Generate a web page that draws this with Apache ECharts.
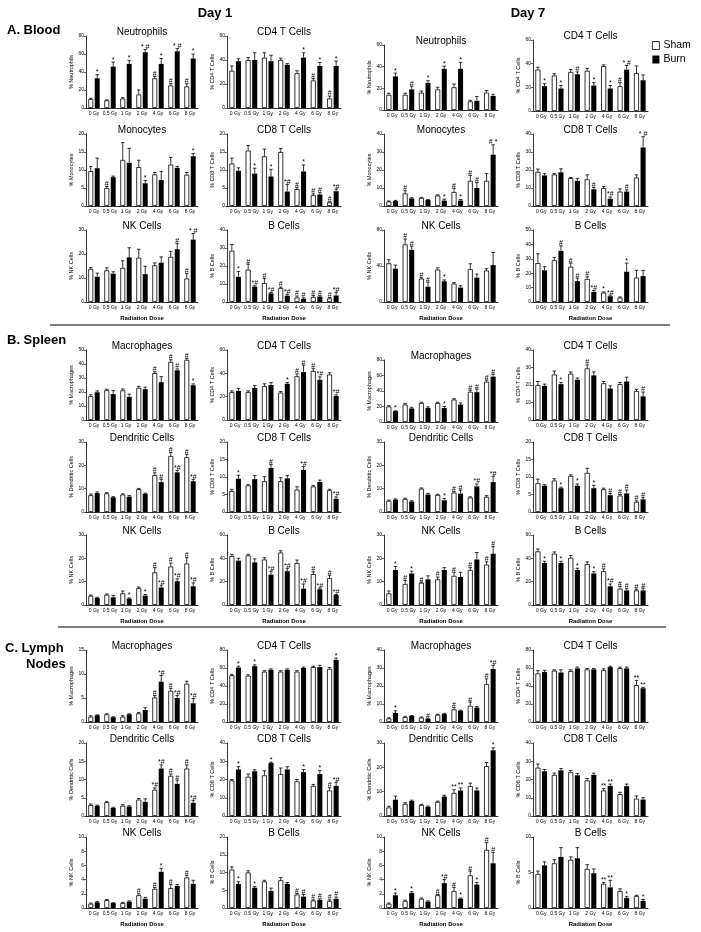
<!DOCTYPE html>
<html><head><meta charset="utf-8">
<script src="https://cdn.jsdelivr.net/npm/echarts@6/dist/echarts.min.js"></script>
<style>html,body{margin:0;padding:0;background:#fff}#c{width:701px;height:932px}</style>
</head><body><div id="c"></div>
<script>
// ---------- categories ----------
const doses = ['0 Gy','0.5 Gy','1 Gy','2 Gy','4 Gy','6 Gy','8 Gy'];

// ---------- A. Blood, Day 1 ----------  [mean, SEM]
const bl1_neu_sham = [[10,0.8],[8.5,0.5],[10.5,1],[15,5],[33,2],[25,2],[24,3]];
const bl1_neu_burn = [[33,4],[46,5],[49,4],[62,3],[49,6],[63,3],[55,5]];
const bl1_neu_marks = [['','*'],['','*'],['','*'],['','* #'],['#','*'],['#','* #'],['#','*']];
const bl1_cd4_sham = [[31,4],[40,2],[42,4],[40,1.5],[29,2],[23,1.5],[8,2]];
const bl1_cd4_burn = [[39,2],[40,6],[39,5],[36,1],[42,4],[35,3],[35,4]];
const bl1_cd4_marks = [['',''],['',''],['',''],['',''],['','*'],['#','*'],['#','*']];
const bl1_mono_sham = [[9.7,1.3],[5,0.4],[12.8,4.8],[10.8,1.9],[8.8,0.5],[11.5,2],[8.7,0.6]];
const bl1_mono_burn = [[10.5,2.8],[8,0.3],[12,4],[6.3,0.8],[7.2,2.4],[10.6,0.4],[13.8,0.8]];
const bl1_mono_marks = [['',''],['#',''],['',''],['','*'],['',''],['',''],['','*']];
const bl1_cd8_sham = [[11.8,1.5],[15.4,1.4],[13.8,2],[15,1],[4.7,0.5],[3,0.4],[1,0.2]];
const bl1_cd8_burn = [[9.8,0.8],[9,1.5],[8.2,2],[4,2],[9.6,1.8],[3.2,0.5],[4.1,0.6]];
const bl1_cd8_marks = [['',''],['','*'],['','*'],['','*#'],['#','*'],['#','#'],['#','*#']];
const bl1_nk_sham = [[13.8,0.6],[13.2,1],[14.2,3],[18.5,3.5],[15.3,1],[18.8,2.3],[9.8,2]];
const bl1_nk_burn = [[10.5,1.5],[11.8,0.8],[18.6,4],[11.6,3.3],[16.4,2.4],[22,2.3],[26,2.5]];
const bl1_nk_marks = [['',''],['',''],['',''],['',''],['',''],['','#'],['#','* #']];
const bl1_b_sham = [[28.5,3.5],[18,3],[10.5,2.5],[7.8,0.5],[2.5,0.8],[2.8,0.8],[2,0.5]];
const bl1_b_burn = [[14,3],[8.5,0.5],[4.8,0.5],[3.5,0.8],[1.8,0.5],[3,0.5],[3.6,1.8]];
const bl1_b_marks = [['','*'],['#','*#'],['#','*#'],['#','*#'],['#','#'],['#','#'],['#','*#']];

// ---------- A. Blood, Day 7 ----------
const bl7_neu_sham = [[14,1.5],[14,1.5],[16,1.5],[19,2],[21,3],[8,1],[16,2]];
const bl7_neu_burn = [[31,3],[19,3],[25,2],[38,2.5],[38,6],[8.5,4],[13,1.5]];
const bl7_neu_marks = [['','*'],['','#'],['','*'],['','*'],['','*'],['',''],['','']];
const bl7_cd4_sham = [[35,2],[30,1.5],[33,2],[34,2],[38,1],[21,3],[32,6]];
const bl7_cd4_burn = [[21,2],[19,2.5],[31,2],[21.5,2.5],[19,2.5],[35,3.5],[26,4.5]];
const bl7_cd4_marks = [['','*'],['','*'],['','#'],['','*'],['','*'],['#','* #'],['','']];
const bl7_mono_sham = [[2.5,0.3],[7,1.5],[4.5,0.3],[5.8,0.4],[7.8,2],[14,3],[14,4]];
const bl7_mono_burn = [[2.7,0.4],[4.2,0.4],[3.3,0.3],[3,0.8],[3,0.6],[10,3],[28.5,5.5]];
const bl7_mono_marks = [['',''],['#',''],['',''],['','*'],['#','*'],['#','#'],['','# *']];
const bl7_cd8_sham = [[19,1.5],[17.5,0.5],[15.5,0.3],[14.8,2.5],[10,0.8],[8,1.5],[15.8,1.5]];
const bl7_cd8_burn = [[17,1],[18.7,2],[14,1.3],[9.3,1],[4,1],[8,1],[32.5,6]];
const bl7_cd8_marks = [['',''],['',''],['',''],['','#'],['','*#'],['','#'],['','* #']];
const bl7_nk_sham = [[43,4],[64,6],[26,1],[36,2],[20.5,1],[36.5,6],[35,2]];
const bl7_nk_burn = [[37,4],[58,4],[17,5],[23,1.5],[16,2],[27,4],[41,14]];
const bl7_nk_marks = [['',''],['#','#'],['#','#'],['','*'],['',''],['',''],['','']];
const bl7_b_sham = [[27,6.5],[29,2],[24.5,2.5],[16,1.5],[6.5,0.5],[3,0.5],[17,5]];
const bl7_b_burn = [[22,2.5],[35.5,3.5],[14.5,2],[7,1],[4,0.8],[21,6],[18,4]];
const bl7_b_marks = [['',''],['','#'],['#','#'],['#','*#'],['*','*#'],['','*'],['','']];

// ---------- B. Spleen, Day 1 ----------
const sp1_mac_sham = [[17,1],[21.5,0.5],[21.2,1],[23,1],[33.5,1],[41.5,1.5],[43,1]];
const sp1_mac_burn = [[19.8,1],[18.5,2.5],[16.5,2],[22,1.5],[27,4],[35.5,1],[24.8,1]];
const sp1_mac_marks = [['',''],['',''],['',''],['',''],['#',''],['#','#'],['#','*']];
const sp1_cd4_sham = [[24,1],[24,1],[29,2],[23.5,1],[37.5,2],[42,2],[39,1.5]];
const sp1_cd4_burn = [[25,2],[27.5,2],[30,2],[31,1],[41,6],[34.5,2.5],[20.5,1]];
const sp1_cd4_marks = [['',''],['',''],['',''],['','*'],['#','#'],['#','*#'],['','*#']];
const sp1_dc_sham = [[7.2,0.5],[8,0.3],[7.5,0.3],[9.8,0.3],[15.8,1],[24,1.5],[23.5,1.2]];
const sp1_dc_burn = [[8.1,0.5],[6.3,0.3],[6.6,0.5],[7.8,0.3],[12.8,1.2],[17,0.8],[13.2,0.8]];
const sp1_dc_marks = [['',''],['',''],['',''],['',''],['#','#'],['#','*#'],['#','*#']];
const sp1_cd8_sham = [[6,0.5],[7.6,0.2],[8.8,1.3],[8.8,1],[6.4,0.8],[7.3,0.3],[6.2,0.3]];
const sp1_cd8_burn = [[9.5,1],[9.4,1],[12.6,1],[9.6,0.8],[12,1],[8.6,0.5],[3.8,0.5]];
const sp1_cd8_marks = [['','*'],['',''],['','#'],['',''],['','*#'],['',''],['','*#']];
const sp1_nk_sham = [[4,0.3],[4.4,0.3],[5,1],[7.2,0.5],[14,2],[16.5,1.5],[17.8,2.5]];
const sp1_nk_burn = [[3,0.3],[3.3,0.8],[2.7,0.3],[4,0.5],[7.5,1],[10.2,1],[8,1.5]];
const sp1_nk_marks = [['',''],['',''],['','*'],['','*'],['#','*#'],['#','*#'],['#','*#']];
const sp1_b_sham = [[42,1.5],[42.5,1],[39,1.5],[45,1.5],[36,2.5],[26.5,2],[23,2.5]];
const sp1_b_burn = [[38,2],[36.5,3],[26,3],[29,2.5],[14,4],[13.5,1],[8.5,0.5]];
const sp1_b_marks = [['',''],['',''],['','*#'],['','*#'],['','*#'],['#','*#'],['#','*#']];

// ---------- B. Spleen, Day 7 ----------
const sp7_mac_sham = [[20,1],[22.5,1.5],[24.5,1],[24.5,1],[29,1],[39,2],[52,2]];
const sp7_mac_burn = [[14,0.5],[17.5,1.5],[18,1.5],[18,2],[22.5,2],[38.5,4],[58.5,3]];
const sp7_mac_marks = [['','*'],['',''],['',''],['','*'],['',''],['#','#'],['#','#']];
const sp7_cd4_sham = [[20,2],[26,2],[26.5,1],[29.5,2],[21,1],[20.5,1],[16.5,1]];
const sp7_cd4_burn = [[19.5,1],[20.5,1],[23,1],[25.5,2],[18,1.5],[22,2.5],[13.5,2.5]];
const sp7_cd4_marks = [['',''],['','*'],['',''],['#',''],['',''],['',''],['','#']];
const sp7_dc_sham = [[4.8,0.3],[5.6,0.3],[10,0.3],[7.3,0.3],[8.3,0.5],[6.2,0.3],[6.5,0.5]];
const sp7_dc_burn = [[5.3,0.3],[4.5,0.3],[7.5,0.5],[5,0.8],[7.9,1.5],[11,1],[12.8,2.5]];
const sp7_dc_marks = [['',''],['',''],['',''],['','*'],['#','#'],['','*#'],['','*#']];
const sp7_cd8_sham = [[8.2,1.2],[9,0.5],[10.3,0.3],[11.2,1.3],[6.5,0.3],[4.7,0.3],[2.9,0.3]];
const sp7_cd8_burn = [[7.5,0.3],[6.8,0.3],[7.5,0.5],[6.8,0.8],[4.8,0.5],[5.3,1],[3.6,0.5]];
const sp7_cd8_marks = [['',''],['','*'],['','*'],['','*'],['','#'],['#','#'],['#','#']];
const sp7_nk_sham = [[5,1],[9,1.5],[9.5,0.3],[11,1],[12.5,1.5],[15,1],[17.3,1.2]];
const sp7_nk_burn = [[15,1.5],[13.5,1],[11,1.5],[15,1],[12,2],[19.5,3],[22,3]];
const sp7_nk_marks = [['','*'],['#','*'],['#',''],['#',''],['#',''],['#',''],['#','#']];
const sp7_b_sham = [[46,2],[44,1.5],[40.5,2],[35,2],[29,2],[14,2],[12.5,1]];
const sp7_b_burn = [[36,1.5],[36,1.5],[30,1.5],[27,1.5],[16,2],[12.5,1.5],[12.5,2]];
const sp7_b_marks = [['','*'],['','*'],['','*'],['','*'],['#','*#'],['#','#'],['#','#']];

// ---------- C. Lymph Nodes, Day 1 ----------
const ln1_mac_sham = [[1.1,0.2],[1.6,0.1],[1.1,0.2],[1.8,0.2],[5.1,0.4],[6.5,0.5],[8,0.5]];
const ln1_mac_burn = [[1.4,0.1],[1,0.1],[1.6,0.1],[2.5,0.5],[8.4,1.3],[5,0.5],[3.9,1]];
const ln1_mac_marks = [['',''],['',''],['',''],['',''],['#','*#'],['#','*#'],['','*#']];
const ln1_cd4_sham = [[52,1],[51.5,1],[56,1],[56,1],[56,1],[61,1],[59,1.5]];
const ln1_cd4_burn = [[60.5,1.5],[62,1.5],[58,1],[58,1],[60,1],[61,2],[69,2]];
const ln1_cd4_marks = [['','*'],['','*'],['',''],['',''],['',''],['',''],['','*']];
const ln1_dc_sham = [[3,0.3],[3.8,0.1],[2.8,0.3],[4.5,0.3],[7.2,0.5],[11,0.5],[13,1]];
const ln1_dc_burn = [[2.8,0.2],[2.2,0.2],[2.6,0.2],[3.9,0.8],[13,1],[8.8,1],[3.6,0.7]];
const ln1_dc_marks = [['',''],['',''],['',''],['',''],['*#','*#'],['#','#'],['#','*#']];
const ln1_cd8_sham = [[19.5,0.5],[21.5,1.5],[22.3,2.5],[23,3.3],[19,1],[16.5,0.8],[14,1.5]];
const ln1_cd8_burn = [[25.5,1.5],[24.5,0.8],[29,0.5],[25.5,1.5],[24,1.5],[23,2],[16.5,2]];
const ln1_cd8_marks = [['','*'],['',''],['','*'],['',''],['','*'],['','*'],['#','*#']];
const ln1_nk_sham = [[0.6,0.1],[1.1,0.1],[0.7,0.1],[1.8,0.2],[2.7,0.2],[2.8,0.5],[4.3,0.3]];
const ln1_nk_burn = [[0.8,0.1],[0.7,0.05],[0.9,0.1],[1.3,0.2],[5.1,0.5],[3.1,0.2],[3.4,0.5]];
const ln1_nk_marks = [['',''],['',''],['',''],['#',''],['#','*'],['#',''],['#','']];
const ln1_b_sham = [[10.8,0.8],[10,0.5],[7.5,0.3],[7.8,0.8],[3.8,0.3],[2.1,0.2],[2,0.3]];
const ln1_b_burn = [[6.8,0.6],[5.7,0.3],[4.8,0.8],[6.8,0.4],[3.2,0.6],[2.3,0.3],[2.6,0.5]];
const ln1_b_marks = [['','*'],['','*'],['',''],['',''],['#','#'],['#','#'],['#','#']];

// ---------- C. Lymph Nodes, Day 7 ----------
const ln7_mac_sham = [[2,0.3],[2.7,0.5],[2.5,0.3],[4,0.3],[7,1],[9,2],[21,3]];
const ln7_mac_burn = [[5,1.2],[3.3,0.3],[1.8,0.3],[4.5,0.3],[6.3,0.3],[8,0.5],[29.5,2]];
const ln7_mac_marks = [['','*'],['',''],['','#'],['',''],['#',''],['#',''],['#','*#']];
const ln7_cd4_sham = [[54,3],[57,1],[56.5,1.5],[58.5,1],[57.5,1.5],[60,1],[41,5]];
const ln7_cd4_burn = [[55.5,2],[55,3],[59.5,1.5],[58.5,1],[61,1],[59.5,1.5],[37.5,1]];
const ln7_cd4_marks = [['',''],['',''],['',''],['',''],['',''],['',''],['**','**']];
const ln7_dc_sham = [[3.5,0.5],[5,0.5],[4.5,0.3],[5.8,0.3],[9.5,1.3],[12.3,1.2],[20.5,1.5]];
const ln7_dc_burn = [[6.7,1.5],[6.2,0.3],[3.8,0.3],[8,0.5],[10.5,1],[10.5,1],[27,1]];
const ln7_dc_marks = [['',''],['',''],['',''],['',''],['**','**'],['',''],['','*']];
const ln7_cd8_sham = [[26.5,2],[22.5,1],[24,1],[19.5,1],[14,1],[12,1],[9.5,1.5]];
const ln7_cd8_burn = [[24.5,1],[25,1],[22.3,1],[22.5,1],[16.5,1],[16.3,1.2],[9,1]];
const ln7_cd8_marks = [['',''],['',''],['',''],['',''],['**','**'],['',''],['','']];
const ln7_nk_sham = [[0.6,0.1],[1,0.1],[1.3,0.1],[1.8,0.1],[2.4,0.5],[4.6,0.6],[8.2,1]];
const ln7_nk_burn = [[1.8,0.3],[2.1,0.2],[0.9,0.1],[3.5,0.5],[1.3,0.1],[3.3,0.3],[6.3,1.5]];
const ln7_nk_marks = [['','*'],['','*'],['',''],['#','*#'],['#','*'],['#','*'],['#','#']];
const ln7_b_sham = [[4.8,0.4],[6.3,0.5],[6.8,0.4],[5.5,0.6],[3.4,0.2],[2.4,0.3],[1.7,0.1]];
const ln7_b_burn = [[6,0.5],[7.2,1.3],[7,1.5],[4.9,0.6],[2.9,1],[1.4,0.2],[1,0.2]];
const ln7_b_marks = [['',''],['',''],['',''],['',''],['**','**'],['','*'],['','*']];

// ---------- panel list (row r, column c) ----------
const panels = [
  {r:0,c:0,t:'Neutrophils',y:'% Neutrophils',max:80,step:20,s:bl1_neu_sham,b:bl1_neu_burn,m:bl1_neu_marks},
  {r:0,c:1,t:'CD4 T Cells',y:'% CD4 T Cells',max:60,step:20,s:bl1_cd4_sham,b:bl1_cd4_burn,m:bl1_cd4_marks},
  {r:0,c:2,t:'Neutrophils',y:'% Neutrophils',max:60,step:20,s:bl7_neu_sham,b:bl7_neu_burn,m:bl7_neu_marks},
  {r:0,c:3,t:'CD4 T Cells',y:'% CD4 T Cells',max:60,step:20,s:bl7_cd4_sham,b:bl7_cd4_burn,m:bl7_cd4_marks},
  {r:1,c:0,t:'Monocytes',y:'% Monocytes',max:20,step:5,s:bl1_mono_sham,b:bl1_mono_burn,m:bl1_mono_marks},
  {r:1,c:1,t:'CD8 T Cells',y:'% CD8 T Cells',max:20,step:5,s:bl1_cd8_sham,b:bl1_cd8_burn,m:bl1_cd8_marks},
  {r:1,c:2,t:'Monocytes',y:'% Monocytes',max:40,step:10,s:bl7_mono_sham,b:bl7_mono_burn,m:bl7_mono_marks},
  {r:1,c:3,t:'CD8 T Cells',y:'% CD8 T Cells',max:40,step:10,s:bl7_cd8_sham,b:bl7_cd8_burn,m:bl7_cd8_marks},
  {r:2,c:0,t:'NK Cells',y:'% NK Cells',max:30,step:10,s:bl1_nk_sham,b:bl1_nk_burn,m:bl1_nk_marks},
  {r:2,c:1,t:'B Cells',y:'% B Cells',max:40,step:10,s:bl1_b_sham,b:bl1_b_burn,m:bl1_b_marks},
  {r:2,c:2,t:'NK Cells',y:'% NK Cells',max:80,step:40,s:bl7_nk_sham,b:bl7_nk_burn,m:bl7_nk_marks},
  {r:2,c:3,t:'B Cells',y:'% B Cells',max:50,step:10,s:bl7_b_sham,b:bl7_b_burn,m:bl7_b_marks},
  {r:3,c:0,t:'Macrophages',y:'% Macrophages',max:50,step:10,s:sp1_mac_sham,b:sp1_mac_burn,m:sp1_mac_marks},
  {r:3,c:1,t:'CD4 T Cells',y:'% CD4 T Cells',max:60,step:20,s:sp1_cd4_sham,b:sp1_cd4_burn,m:sp1_cd4_marks},
  {r:3,c:2,t:'Macrophages',y:'% Macrophages',max:80,step:20,s:sp7_mac_sham,b:sp7_mac_burn,m:sp7_mac_marks},
  {r:3,c:3,t:'CD4 T Cells',y:'% CD4 T Cells',max:40,step:10,s:sp7_cd4_sham,b:sp7_cd4_burn,m:sp7_cd4_marks},
  {r:4,c:0,t:'Dendritic Cells',y:'% Dendritic Cells',max:30,step:10,s:sp1_dc_sham,b:sp1_dc_burn,m:sp1_dc_marks},
  {r:4,c:1,t:'CD8 T Cells',y:'% CD8 T Cells',max:20,step:5,s:sp1_cd8_sham,b:sp1_cd8_burn,m:sp1_cd8_marks},
  {r:4,c:2,t:'Dendritic Cells',y:'% Dendritic Cells',max:30,step:10,s:sp7_dc_sham,b:sp7_dc_burn,m:sp7_dc_marks},
  {r:4,c:3,t:'CD8 T Cells',y:'% CD8 T Cells',max:20,step:5,s:sp7_cd8_sham,b:sp7_cd8_burn,m:sp7_cd8_marks},
  {r:5,c:0,t:'NK Cells',y:'% NK Cells',max:30,step:10,s:sp1_nk_sham,b:sp1_nk_burn,m:sp1_nk_marks},
  {r:5,c:1,t:'B Cells',y:'% B Cells',max:60,step:20,s:sp1_b_sham,b:sp1_b_burn,m:sp1_b_marks},
  {r:5,c:2,t:'NK Cells',y:'% NK Cells',max:30,step:10,s:sp7_nk_sham,b:sp7_nk_burn,m:sp7_nk_marks},
  {r:5,c:3,t:'B Cells',y:'% B Cells',max:60,step:20,s:sp7_b_sham,b:sp7_b_burn,m:sp7_b_marks},
  {r:6,c:0,t:'Macrophages',y:'% Macrophages',max:15,step:5,s:ln1_mac_sham,b:ln1_mac_burn,m:ln1_mac_marks},
  {r:6,c:1,t:'CD4 T Cells',y:'% CD4 T Cells',max:80,step:20,s:ln1_cd4_sham,b:ln1_cd4_burn,m:ln1_cd4_marks},
  {r:6,c:2,t:'Macrophages',y:'% Macrophages',max:40,step:10,s:ln7_mac_sham,b:ln7_mac_burn,m:ln7_mac_marks},
  {r:6,c:3,t:'CD4 T Cells',y:'% CD4 T Cells',max:80,step:20,s:ln7_cd4_sham,b:ln7_cd4_burn,m:ln7_cd4_marks},
  {r:7,c:0,t:'Dendritic Cells',y:'% Dendritic Cells',max:20,step:5,s:ln1_dc_sham,b:ln1_dc_burn,m:ln1_dc_marks},
  {r:7,c:1,t:'CD8 T Cells',y:'% CD8 T Cells',max:40,step:10,s:ln1_cd8_sham,b:ln1_cd8_burn,m:ln1_cd8_marks},
  {r:7,c:2,t:'Dendritic Cells',y:'% Dendritic Cells',max:30,step:10,s:ln7_dc_sham,b:ln7_dc_burn,m:ln7_dc_marks},
  {r:7,c:3,t:'CD8 T Cells',y:'% CD8 T Cells',max:40,step:10,s:ln7_cd8_sham,b:ln7_cd8_burn,m:ln7_cd8_marks},
  {r:8,c:0,t:'NK Cells',y:'% NK Cells',max:10,step:2,s:ln1_nk_sham,b:ln1_nk_burn,m:ln1_nk_marks},
  {r:8,c:1,t:'B Cells',y:'% B Cells',max:20,step:5,s:ln1_b_sham,b:ln1_b_burn,m:ln1_b_marks},
  {r:8,c:2,t:'NK Cells',y:'% NK Cells',max:10,step:2,s:ln7_nk_sham,b:ln7_nk_burn,m:ln7_nk_marks},
  {r:8,c:3,t:'B Cells',y:'% B Cells',max:10,step:5,s:ln7_b_sham,b:ln7_b_burn,m:ln7_b_marks}
];

// ---------- layout (pixels) ----------
const colLeft = [86, 227, 384, 533];
const colWidth = [112, 114, 114, 115];
const rowTop = [36, 134, 230, 350, 442, 535, 650, 743, 837];
const rowBottom = [108, 206, 302, 420, 512, 605, 722, 816, 908];
const FONT = '"Liberation Sans", Arial, sans-serif';
const BAR_FRAC = 0.31, BAR_GAP = 0.3;

function rect(p) {
  let top = rowTop[p.r], bottom = rowBottom[p.r];
  if (p.r === 0 && p.c === 2) { top = 45; bottom = 110; }
  if (p.r === 0 && p.c === 3) { top = 40; bottom = 111; }
  if (p.r === 3 && p.c === 2) { top = 360; bottom = 422; }
  return {left: colLeft[p.c], top: top, width: colWidth[p.c], height: bottom - top};
}

const grids = [], xAxes = [], yAxes = [], series = [], graphics = [];
panels.forEach((p, gi) => {
  const g = rect(p);
  grids.push(g);
  const lastRow = (p.r === 2 || p.r === 5 || p.r === 8);
  xAxes.push({
    type: 'category', gridIndex: gi, data: doses,
    axisLine: {lineStyle: {color: '#000', width: 0.8}},
    axisTick: {show: false},
    axisLabel: {fontSize: 5, margin: 3, interval: 0, color: '#000', fontFamily: FONT},
    name: lastRow ? 'Radiation Dose' : '', nameLocation: 'middle', nameGap: 13,
    nameTextStyle: {fontSize: 6, fontWeight: 'bold', color: '#000', fontFamily: FONT}
  });
  yAxes.push({
    type: 'value', gridIndex: gi, min: 0, max: p.max, interval: p.step,
    axisLine: {show: true, lineStyle: {color: '#000', width: 0.8}},
    axisTick: {show: true, length: 2, lineStyle: {color: '#000', width: 0.6}},
    splitLine: {show: false},
    axisLabel: {fontSize: 5, margin: 2, color: '#000', fontFamily: FONT},
    name: p.y, nameLocation: 'middle', nameGap: 12,
    nameTextStyle: {fontSize: 5.5, color: '#000', fontFamily: FONT}
  });
  series.push({
    type: 'bar', name: 'Sham', xAxisIndex: gi, yAxisIndex: gi,
    data: p.s.map(d => d[0]), barWidth: (BAR_FRAC * 100) + '%', barGap: (BAR_GAP * 100) + '%',
    itemStyle: {color: '#fff', borderColor: '#000', borderWidth: 0.8}, silent: true
  });
  series.push({
    type: 'bar', name: 'Burn', xAxisIndex: gi, yAxisIndex: gi,
    data: p.b.map(d => d[0]), barWidth: (BAR_FRAC * 100) + '%', barGap: (BAR_GAP * 100) + '%',
    itemStyle: {color: '#000'}, silent: true
  });
  [[p.s, -1, 0], [p.b, 1, 1]].forEach(([arr, side, mi]) => {
    series.push({
      type: 'custom', xAxisIndex: gi, yAxisIndex: gi, z: 5, silent: true, clip: false,
      data: arr.map((d, i) => [i, d[0], d[1]]),
      renderItem: (params, api) => {
        const i = api.value(0), v = api.value(1), e = api.value(2);
        const base = api.coord([i, v]), tp = api.coord([i, v + e]);
        const band = api.size([1, 0])[0];
        const bw = band * BAR_FRAC;
        const x = base[0] + side * bw * (1 + BAR_GAP) / 2;
        const cap = bw * 0.35;
        const ch = [
          {type: 'line', shape: {x1: x, y1: base[1], x2: x, y2: tp[1]}, style: {stroke: '#000', lineWidth: 0.8}},
          {type: 'line', shape: {x1: x - cap, y1: tp[1], x2: x + cap, y2: tp[1]}, style: {stroke: '#000', lineWidth: 0.8}}
        ];
        const mk = p.m[params.dataIndex][mi];
        if (mk) ch.push({type: 'text', style: {text: mk, x: x, y: tp[1] + 1, align: 'center', verticalAlign: 'bottom',
          font: '7px ' + FONT, fill: '#000'}});
        return {type: 'group', children: ch};
      }
    });
  });
  graphics.push({type: 'text', style: {text: p.t, x: g.left + g.width / 2, y: g.top - 4, align: 'center',
    verticalAlign: 'middle', font: '10px ' + FONT, fill: '#000'}});
});

function txt(t, x, y, font, align) {
  graphics.push({type: 'text', style: {text: t, x: x, y: y, align: align || 'left', verticalAlign: 'middle', font: font, fill: '#000'}});
}
txt('Day 1', 215, 13, 'bold 13px ' + FONT, 'center');
txt('Day 7', 528, 13, 'bold 13px ' + FONT, 'center');
txt('A. Blood', 7, 30, 'bold 13px ' + FONT);
txt('B. Spleen', 7, 340, 'bold 13px ' + FONT);
txt('C. Lymph', 5, 648, 'bold 13px ' + FONT);
txt('Nodes', 26, 664, 'bold 13px ' + FONT);
graphics.push({type: 'line', shape: {x1: 50, y1: 325, x2: 670, y2: 325}, style: {stroke: '#555', lineWidth: 1.5}});
graphics.push({type: 'line', shape: {x1: 58, y1: 627, x2: 666, y2: 627}, style: {stroke: '#555', lineWidth: 1.5}});

const chart = echarts.init(document.getElementById('c'), null, {renderer: 'canvas'});
chart.setOption({
  animation: false,
  backgroundColor: '#fff',
  textStyle: {fontFamily: FONT},
  legend: {
    data: [{name: 'Sham', itemStyle: {color: '#fff', borderColor: '#000', borderWidth: 0.8}},
           {name: 'Burn', itemStyle: {color: '#000'}}],
    orient: 'vertical', left: 652, top: 40, itemWidth: 7, itemHeight: 8, itemGap: 3, icon: 'rect',
    selectedMode: false, padding: 0, textStyle: {fontSize: 10.5, color: '#000', fontFamily: FONT, padding: [0, 0, 0, -1]}
  },
  grid: grids, xAxis: xAxes, yAxis: yAxes, series: series, graphic: graphics
});
</script></body></html>
